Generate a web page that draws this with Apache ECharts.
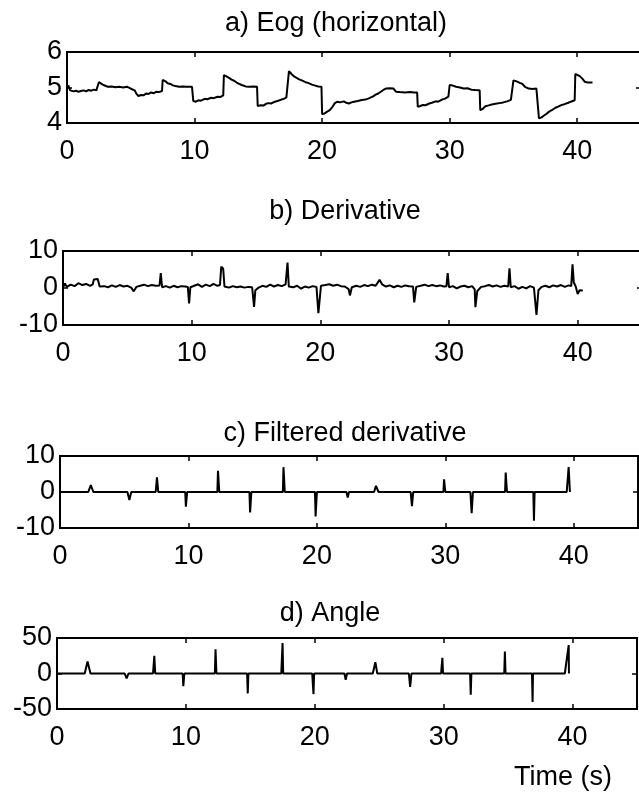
<!DOCTYPE html>
<html>
<head>
<meta charset="utf-8">
<script src="https://cdn.jsdelivr.net/npm/echarts@6/dist/echarts.min.js"></script>
<style>
  html, body { margin: 0; padding: 0; background: #fff; }
  #chart { width: 639px; height: 796px; }
</style>
</head>
<body>
<div id="chart"></div>
<script>
// panel titles and axis settings
var panelTitles = ['a) Eog (horizontal)', 'b) Derivative', 'c) Filtered derivative', 'd) Angle'];
var xTicks = [0, 10, 20, 30, 40];
var yMin = [4, -10, -10, -50];
var yMax = [6, 10, 10, 50];
var yStep = [1, 10, 10, 50];

// a) Eog (horizontal)
var eogTime = [0.0, 0.1, 0.25, 0.5, 0.7, 0.9, 1.1, 1.3, 1.5, 1.7,
  1.9, 2.1, 2.3, 2.45, 2.5, 2.65, 2.8, 3.0, 3.2, 3.5,
  3.8, 4.1, 4.4, 4.7, 4.9, 5.1, 5.3, 5.45, 5.6, 5.8,
  6.0, 6.2, 6.4, 6.6, 6.8, 7.0, 7.2, 7.45, 7.5, 7.7,
  7.9, 8.1, 8.3, 8.5, 8.8, 9.1, 9.4, 9.8, 9.9, 10.1,
  10.3, 10.5, 10.8, 11.0, 11.3, 11.5, 11.8, 12.0, 12.25, 12.3,
  12.5, 12.7, 12.9, 13.1, 13.3, 13.5, 13.7, 14.0, 14.3, 14.6,
  14.9, 14.95, 15.2, 15.4, 15.6, 15.8, 16.0, 16.3, 16.5, 16.8,
  17.0, 17.2, 17.35, 17.4, 17.6, 17.8, 18.0, 18.2, 18.4, 18.7,
  18.9, 19.2, 19.4, 19.7, 19.95, 20.0, 20.2, 20.4, 20.6, 20.8,
  21.0, 21.2, 21.4, 21.7, 21.9, 22.1, 22.3, 22.5, 22.8, 23.1,
  23.4, 23.7, 24.0, 24.2, 24.4, 24.6, 24.8, 25.0, 25.3, 25.6,
  25.8, 26.1, 26.5, 26.9, 27.2, 27.45, 27.5, 27.7, 27.9, 28.1,
  28.4, 28.6, 28.9, 29.1, 29.4, 29.6, 29.9, 30.0, 30.2, 30.5,
  30.8, 31.1, 31.4, 31.7, 32.0, 32.35, 32.4, 32.6, 32.8, 33.0,
  33.3, 33.6, 33.9, 34.2, 34.5, 34.8, 34.95, 35.0, 35.2, 35.5,
  35.7, 35.9, 36.2, 36.5, 36.8, 36.95, 37.0, 37.2, 37.4, 37.6,
  37.8, 38.0, 38.3, 38.5, 38.8, 39.0, 39.3, 39.5, 39.8, 39.85,
  40.0, 40.2, 40.4, 40.6, 40.8, 41.2];
var eogValue = [4.98, 5.06, 4.92, 4.89, 4.91, 4.88, 4.90, 4.92, 4.89, 4.93,
  4.91, 4.94, 4.92, 4.93, 5.15, 5.13, 5.08, 5.05, 5.02, 5.03,
  5.01, 5.02, 5.00, 5.02, 4.99, 4.95, 4.92, 4.82, 4.76, 4.79,
  4.78, 4.83, 4.82, 4.86, 4.84, 4.88, 4.87, 4.90, 5.21, 5.18,
  5.12, 5.10, 5.06, 5.04, 5.02, 5.03, 5.02, 5.02, 4.62, 4.60,
  4.64, 4.63, 4.68, 4.67, 4.71, 4.70, 4.74, 4.73, 4.78, 5.35,
  5.31, 5.27, 5.22, 5.19, 5.14, 5.10, 5.07, 5.03, 5.02, 5.03,
  5.02, 4.48, 4.50, 4.49, 4.54, 4.56, 4.55, 4.60, 4.62, 4.66,
  4.68, 4.72, 4.74, 5.46, 5.38, 5.31, 5.27, 5.23, 5.20, 5.15,
  5.13, 5.08, 5.06, 5.03, 5.02, 4.25, 4.27, 4.32, 4.36, 4.45,
  4.56, 4.60, 4.58, 4.61, 4.57, 4.55, 4.58, 4.60, 4.62, 4.65,
  4.66, 4.70, 4.75, 4.80, 4.83, 4.88, 4.93, 4.97, 4.98, 4.97,
  4.88, 4.87, 4.86, 4.87, 4.86, 4.86, 4.46, 4.48, 4.51, 4.50,
  4.55, 4.57, 4.61, 4.60, 4.66, 4.68, 4.74, 5.07, 5.06, 5.02,
  5.00, 4.97, 4.98, 4.94, 4.93, 4.92, 4.36, 4.40, 4.47, 4.49,
  4.52, 4.54, 4.56, 4.58, 4.61, 4.65, 4.67, 5.20, 5.18, 5.13,
  5.10, 5.02, 4.97, 4.96, 4.97, 4.96, 4.13, 4.16, 4.21, 4.26,
  4.32, 4.36, 4.43, 4.46, 4.51, 4.53, 4.57, 4.60, 4.64, 5.38,
  5.37, 5.32, 5.25, 5.16, 5.14, 5.14];

// b) Derivative
var derivTime = [0.0, 0.15, 0.3, 0.6, 0.9, 1.2, 1.5, 1.8, 2.1, 2.3, 2.4, 2.7, 2.85, 3.2, 3.5, 3.8, 4.1, 4.4, 4.7, 5.0,
  5.3, 5.5, 5.7, 6.0, 6.3, 6.6, 6.9, 7.2, 7.5, 7.6, 7.7, 8.0, 8.3, 8.6, 8.9, 9.2, 9.5, 9.7, 9.8, 9.9,
  10.2, 10.5, 10.8, 11.1, 11.4, 11.7, 12.0, 12.2, 12.3, 12.45, 12.55, 12.9, 13.2, 13.5, 13.8, 14.1, 14.4, 14.7, 14.85, 14.95,
  15.2, 15.5, 15.8, 16.1, 16.4, 16.7, 17.0, 17.3, 17.45, 17.55, 17.9, 18.2, 18.5, 18.8, 19.1, 19.4, 19.7, 19.85, 19.95, 20.05,
  20.4, 20.7, 21.0, 21.3, 21.6, 21.9, 22.2, 22.3, 22.45, 22.8, 23.1, 23.4, 23.7, 24.0, 24.3, 24.6, 24.8, 25.1, 25.4, 25.7,
  26.0, 26.3, 26.6, 26.9, 27.2, 27.3, 27.45, 27.8, 28.1, 28.4, 28.7, 29.0, 29.3, 29.6, 29.8, 29.9, 30.0, 30.3, 30.6, 30.9,
  31.2, 31.5, 31.8, 32.0, 32.05, 32.2, 32.5, 32.8, 33.1, 33.4, 33.7, 34.0, 34.3, 34.6, 34.7, 34.8, 35.1, 35.4, 35.7, 36.0,
  36.3, 36.6, 36.8, 36.95, 37.2, 37.5, 37.8, 38.1, 38.4, 38.7, 39.0, 39.3, 39.5, 39.6, 39.7, 39.85, 40.0, 40.15, 40.4];
var derivValue = [0.2, 1.2, 0.3, 0.9, 0.5, 1.3, 0.8, 1.1, 0.6, 0.9, 2.3, 2.4, 0.4, 0.5, 0.2, 0.7, 0.3, 0.8, 0.4, 0.6,
  0.1, -0.9, 0.3, 0.6, 0.9, 0.5, 0.8, 0.6, 0.7, 4.0, 0.2, 0.5, 0.1, 0.6, 0.2, 0.5, 0.4, 0.3, -4.2, 0.2,
  0.6, 1.0, 0.3, 0.9, 0.5, 1.1, 0.6, 0.8, 5.8, 5.2, 0.4, 0.1, 0.5, 0.2, 0.4, 0.1, 0.3, 0.2, -5.1, -0.6,
  0.1, 0.6, 0.3, 0.9, 0.4, 0.8, 0.5, 1.0, 6.9, 0.4, 0.2, 0.6, -0.2, 0.4, 0.1, 0.5, 0.3, -6.8, -7.3, 0.6,
  0.8, 1.0, 0.6, 0.9, 0.5, 0.4, -0.3, -2.0, 0.2, 0.6, 0.3, 0.8, 0.5, 0.9, 0.6, 2.2, 1.0, 0.4, 0.7, 0.2,
  0.6, 0.3, 0.7, 0.5, 0.4, -3.9, 0.3, 0.6, 0.9, 0.5, 0.8, 0.5, 0.7, 0.4, 0.5, 4.0, 0.2, 0.5, -0.1, 0.4,
  0.6, 0.2, 0.5, -0.4, -5.2, -0.8, 0.3, 0.5, 0.8, 0.4, 0.7, 0.3, 0.6, 0.4, 5.3, 0.2, 0.5, -0.2, 0.3, -0.1,
  0.5, 0.1, -7.3, -0.6, 0.3, 0.6, 0.2, 0.7, 0.4, 0.8, 0.3, 0.7, 0.5, 6.4, 1.5, 0.4, -1.6, -0.6, -0.7];

// c) Filtered derivative
var filtTime = [0, 2.2, 2.4, 2.6, 5.25, 5.4, 5.55, 7.45, 7.55, 7.65, 9.75, 9.8, 9.9, 12.25, 12.3, 12.4, 14.75, 14.8, 14.9,
  17.35, 17.4, 17.5, 19.85, 19.9, 20.0, 22.3, 22.4, 22.5, 24.45, 24.6, 24.8, 27.3, 27.4, 27.5, 29.85, 29.9, 30.0,
  31.95, 32.05, 32.15, 34.65, 34.7, 34.8, 36.85, 36.9, 36.95, 39.45, 39.6, 39.7];
var filtValue = [0, 0, 1.9, 0, 0, -2.2, 0, 0, 4.1, 0, 0, -4.1, 0, 0, 5.9, 0, 0, -5.7, 0,
  0, 6.9, 0, 0, -6.8, 0, 0, -1.5, 0, 0, 1.7, 0, 0, -3.9, 0, 0, 3.5, 0,
  0, -5.9, 0, 0, 5.4, 0, 0, -8.0, 0, 0, 6.9, 0];

// d) Angle
var angleTime = [0, 2.15, 2.37, 2.6, 5.25, 5.4, 5.55, 7.45, 7.55, 7.62, 9.75, 9.8, 9.88, 12.25, 12.3, 12.37, 14.75, 14.8, 14.85,
  17.4, 17.5, 17.55, 19.8, 19.9, 19.95, 22.3, 22.4, 22.5, 24.5, 24.7, 24.85, 27.3, 27.4, 27.5, 29.8, 29.9, 29.95,
  32.05, 32.1, 32.15, 34.7, 34.75, 34.8, 36.85, 36.9, 36.93, 39.4, 39.7, 39.72];
var angleValue = [0, 0, 17, 0, 0, -7, 0, 0, 25, 0, 0, -18, 0, 0, 34, 0, 0, -28, 0,
  0, 43, 0, 0, -29, 0, 0, -9, 0, 0, 16, 0, 0, -19, 0, 0, 22, 0,
  0, -30, 0, 0, 31, 0, 0, -40, 0, 0, 40, 0];

var times = [eogTime, derivTime, filtTime, angleTime];
var values = [eogValue, derivValue, filtValue, angleValue];

var grids = [
  { left: 67, top: 52, width: 574, height: 71 },
  { left: 63, top: 251, width: 579, height: 74 },
  { left: 60, top: 456, width: 578, height: 72 },
  { left: 57, top: 638, width: 580, height: 71 }
];
var titlePos = [[336, 24], [345, 212], [345, 434], [330, 614]];

var font = 'Liberation Sans';
var myChart = echarts.init(document.getElementById('chart'));

var xAxes = [], yAxes = [], series = [], graphics = [];
grids.forEach(function (g, i) {
  g.show = true;
  g.borderColor = '#000';
  g.borderWidth = 2;
  g.backgroundColor = 'transparent';
  g.outerBoundsMode = 'none';
  g.containLabel = false;

  xAxes.push({
    type: 'value', gridIndex: i, min: 0, max: 45, interval: 10, position: 'bottom',
    axisLine: { show: true, onZero: false, lineStyle: { color: '#000', width: 2 } },
    axisTick: { show: true, inside: true, length: 5, lineStyle: { color: '#000', width: 1.5 } },
    axisLabel: {
      show: true, margin: 15, color: '#000', fontSize: 27, fontFamily: font,
      showMaxLabel: false,
      formatter: function (v) { return xTicks.indexOf(v) >= 0 ? String(v) : ''; }
    },
    splitLine: { show: false }
  });
  xAxes.push({
    type: 'value', gridIndex: i, min: 0, max: 45, interval: 10, position: 'top',
    axisLine: { show: true, onZero: false, lineStyle: { color: '#000', width: 2 } },
    axisTick: { show: true, inside: true, length: 5, lineStyle: { color: '#000', width: 1.5 } },
    axisLabel: { show: false },
    splitLine: { show: false }
  });
  yAxes.push({
    type: 'value', gridIndex: i, min: yMin[i], max: yMax[i], interval: yStep[i], position: 'left',
    axisLine: { show: true, onZero: false, lineStyle: { color: '#000', width: 2 } },
    axisTick: { show: true, inside: true, length: 5, lineStyle: { color: '#000', width: 1.5 } },
    axisLabel: { show: true, margin: 5, color: '#000', fontSize: 27, fontFamily: font, padding: [8, 0, 0, 0] },
    splitLine: { show: false }
  });
  yAxes.push({
    type: 'value', gridIndex: i, min: yMin[i], max: yMax[i], interval: yStep[i], position: 'right',
    axisLine: { show: true, onZero: false, lineStyle: { color: '#000', width: 2 } },
    axisTick: { show: true, inside: true, length: 5, lineStyle: { color: '#000', width: 1.5 } },
    axisLabel: { show: false },
    splitLine: { show: false }
  });

  series.push({
    type: 'line',
    xAxisIndex: i * 2,
    yAxisIndex: i * 2,
    showSymbol: false,
    symbol: 'none',
    silent: true,
    lineStyle: { color: '#000', width: 2 },
    data: times[i].map(function (t, k) { return [t, values[i][k]]; })
  });

  graphics.push({
    type: 'text', x: titlePos[i][0], y: titlePos[i][1],
    style: { text: panelTitles[i], fill: '#000', font: '27px "' + font + '"', align: 'center', verticalAlign: 'middle' }
  });
});

graphics.push({
  type: 'text', x: 563, y: 778,
  style: { text: 'Time (s)', fill: '#000', font: '27px "' + font + '"', align: 'center', verticalAlign: 'middle' }
});

myChart.setOption({
  animation: false,
  backgroundColor: '#fff',
  textStyle: { fontFamily: font },
  grid: grids,
  xAxis: xAxes,
  yAxis: yAxes,
  series: series,
  graphic: graphics
});
</script>
</body>
</html>
